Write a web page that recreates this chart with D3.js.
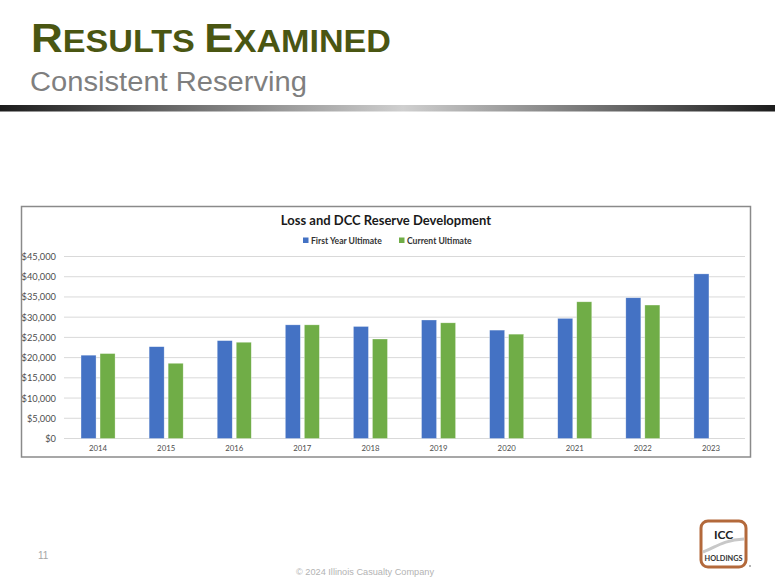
<!DOCTYPE html>
<html>
<head>
<meta charset="utf-8">
<script src="https://cdn.jsdelivr.net/npm/d3@7"></script>
<style>
  html, body { margin: 0; padding: 0; background: #ffffff; }
  svg { display: block; }
</style>
</head>
<body>
<svg id="slide" width="775" height="581"></svg>
<script>
// ---- Data ----
const years = ["2014", "2015", "2016", "2017", "2018", "2019", "2020", "2021", "2022", "2023"];
const firstYearUltimate = [20600, 22700, 24200, 28100, 27700, 29300, 26800, 29700, 34800, 40700];
const currentUltimate = [21000, 18600, 23800, 28100, 24600, 28600, 25800, 33800, 33000, null];
const seriesNames = ["First Year Ultimate", "Current Ultimate"];
const seriesColors = ["#4472C4", "#70AD47"];
const yTicks = [0, 5000, 10000, 15000, 20000, 25000, 30000, 35000, 40000, 45000];

const svg = d3.select("#slide");

// ---- Slide header ----
const grad = svg.append("defs").append("linearGradient").attr("id", "bar").attr("x1", "0%").attr("x2", "100%");
grad.append("stop").attr("offset", "0%").attr("stop-color", "#1c1c1c");
grad.append("stop").attr("offset", "52%").attr("stop-color", "#cfcfcf");
grad.append("stop").attr("offset", "100%").attr("stop-color", "#1c1c1c");

const title = svg.append("text")
  .attr("x", 31).attr("y", 52)
  .attr("font-family", "Liberation Sans, Arial, sans-serif")
  .attr("font-weight", "bold")
  .attr("fill", "#4a5612")
  .attr("textLength", 360).attr("lengthAdjust", "spacingAndGlyphs");
[["R", 40], ["ESULTS ", 31], ["E", 40], ["XAMINED", 31]].forEach(([t, s]) => {
  title.append("tspan").attr("font-size", s).text(t);
});

svg.append("text")
  .attr("x", 30).attr("y", 91)
  .attr("font-family", "Liberation Sans, Arial, sans-serif")
  .attr("font-size", 27)
  .attr("fill", "#7f7f7f")
  .attr("textLength", 277).attr("lengthAdjust", "spacingAndGlyphs")
  .text("Consistent Reserving");

svg.append("rect").attr("x", 0).attr("y", 105).attr("width", 775).attr("height", 6.5).attr("fill", "url(#bar)");

// ---- Chart frame ----
svg.append("rect")
  .attr("x", 21.5).attr("y", 206.5).attr("width", 729).attr("height", 250.5)
  .attr("fill", "#ffffff").attr("stroke", "#8a8a8a").attr("stroke-width", 1.5);

const plot = { left: 64, right: 745, top: 256.5, bottom: 438.5 };

const x0 = d3.scaleBand().domain(years).range([plot.left, plot.right]).paddingInner(0.5).paddingOuter(0.25);
const x1 = d3.scaleBand().domain(seriesNames).range([0, x0.bandwidth()]).paddingInner(0.21);
const y = d3.scaleLinear().domain([0, 45000]).range([plot.bottom, plot.top]);

// gridlines
svg.append("g").selectAll("line").data(yTicks).join("line")
  .attr("x1", plot.left).attr("x2", plot.right)
  .attr("y1", d => y(d)).attr("y2", d => y(d))
  .attr("stroke", "#d9d9d9").attr("stroke-width", 1);

// y axis labels
const fmt = d3.format("$,");
const yAxis = svg.append("g").attr("transform", `translate(${plot.left - 8},0)`)
  .call(d3.axisLeft(y).tickValues(yTicks).tickFormat(d => fmt(d)).tickSize(0).tickPadding(0));
yAxis.select(".domain").remove();
yAxis.selectAll("text")
  .attr("font-family", "Lato, sans-serif").attr("font-size", 9.3).attr("fill", "#4d4d4d");

// x axis labels
const xAxis = svg.append("g").attr("transform", `translate(0,${plot.bottom + 7})`)
  .call(d3.axisBottom(x0).tickSize(0).tickPadding(0));
xAxis.select(".domain").remove();
xAxis.selectAll("text")
  .attr("font-family", "Lato, sans-serif").attr("font-size", 7.8).attr("fill", "#4d4d4d");

// bars
const rows = years.map((yr, i) => ({ year: yr, vals: [firstYearUltimate[i], currentUltimate[i]] }));
const groups = svg.append("g").selectAll("g").data(rows).join("g")
  .attr("transform", d => `translate(${x0(d.year)},0)`);
groups.selectAll("rect")
  .data(d => d.vals.map((v, k) => ({ v, k })).filter(e => e.v != null))
  .join("rect")
  .attr("x", e => x1(seriesNames[e.k]))
  .attr("width", x1.bandwidth())
  .attr("y", e => y(e.v))
  .attr("height", e => y(0) - y(e.v))
  .attr("fill", e => seriesColors[e.k])
  .attr("stroke", "#ffffff").attr("stroke-opacity", 0.5).attr("stroke-width", 0.6);

// chart title
svg.append("text")
  .attr("x", 386).attr("y", 225)
  .attr("text-anchor", "middle")
  .attr("font-family", "Lato, sans-serif").attr("font-weight", "bold")
  .attr("font-size", 13).attr("fill", "#1a1a1a")
  .text("Loss and DCC Reserve Development");

// legend
const legendX = [303, 399];
const legend = svg.append("g").selectAll("g").data(seriesNames).join("g")
  .attr("transform", (d, i) => `translate(${legendX[i]},237.5)`);
legend.append("rect").attr("width", 5.5).attr("height", 5.5).attr("fill", (d, i) => seriesColors[i]);
legend.append("text").attr("x", 8).attr("y", 6)
  .attr("font-family", "Lato, sans-serif").attr("font-weight", "bold")
  .attr("font-size", 8.6).attr("fill", "#333333")
  .text(d => d);

// ---- Footer ----
svg.append("text").attr("x", 38).attr("y", 559)
  .attr("font-family", "Liberation Sans, Arial, sans-serif").attr("font-size", 10)
  .attr("fill", "#a6a6a6").text("11");

svg.append("text").attr("x", 365).attr("y", 575)
  .attr("text-anchor", "middle")
  .attr("font-family", "Liberation Sans Narrow, Liberation Sans, sans-serif").attr("font-size", 9)
  .attr("fill", "#b3b3b3")
  .attr("textLength", 138).attr("lengthAdjust", "spacingAndGlyphs")
  .text("© 2024 Illinois Casualty Company");

// logo
const logo = svg.append("g");
logo.append("rect").attr("x", 701).attr("y", 521).attr("width", 45).attr("height", 46).attr("rx", 7)
  .attr("fill", "#ffffff").attr("stroke", "#b3693b").attr("stroke-width", 3);
logo.append("path")
  .attr("d", "M703,552 C715,548 722,540 744,539")
  .attr("fill", "none").attr("stroke", "#c8c8c8").attr("stroke-width", 3);
logo.append("text").attr("x", 723.5).attr("y", 539).attr("text-anchor", "middle")
  .attr("font-family", "Lato, sans-serif").attr("font-weight", "bold").attr("font-size", 12)
  .attr("fill", "#222222").text("ICC");
logo.append("text").attr("x", 723.5).attr("y", 561).attr("text-anchor", "middle")
  .attr("font-family", "Lato, sans-serif").attr("font-weight", "bold").attr("font-size", 7)
  .attr("fill", "#333333").attr("textLength", 38).attr("lengthAdjust", "spacingAndGlyphs").text("HOLDINGS");
logo.append("circle").attr("cx", 750).attr("cy", 566).attr("r", 0.8).attr("fill", "#555555");
</script>
</body>
</html>
